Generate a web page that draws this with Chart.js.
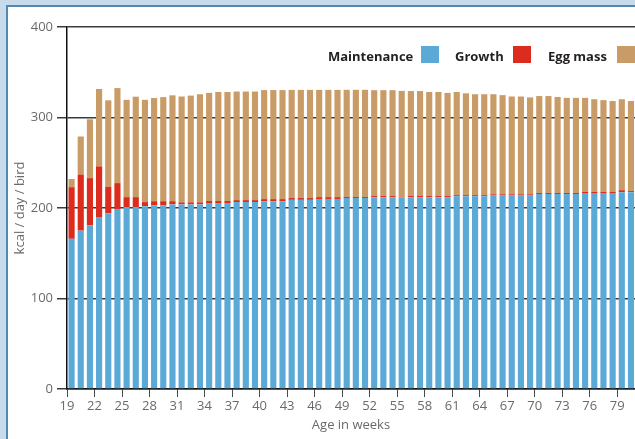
<!DOCTYPE html>
<html>
<head>
<meta charset="utf-8">
<title>Energy requirement by age</title>
<script src="https://cdn.jsdelivr.net/npm/chart.js@4.4.1/dist/chart.umd.min.js"></script>
<style>
    html, body {
        margin: 0;
        padding: 0;
        width: 635px;
        height: 439px;
        overflow: hidden;
        background: #c8dbeb;
    }
    .panel {
        position: absolute;
        left: 6px;
        top: 5px;
        right: 0;
        bottom: 0;
        background: #fff;
        border-left: 2px solid #4f89b4;
        border-top: 2px solid #4f89b4;
    }
    #chart {
        position: absolute;
        left: 0;
        top: 0;
    }
    .legend span {
        position: absolute;
        white-space: nowrap;
    }
    .legend .txt {
        top: 47px;
        line-height: 17px;
        font: bold 13px "Open Sans", sans-serif;
        color: #231f20;
    }
    .legend .box {
        top: 46px;
        width: 18px;
        height: 17px;
    }
</style>
</head>
<body>
<div class="panel"></div>
<canvas id="chart" width="635" height="439"></canvas>
<div class="legend" id="legend"></div>
<script>
const weeks = [
    19, 20, 21, 22, 23, 24, 25, 26, 27, 28, 29, 30, 31, 32, 33,
    34, 35, 36, 37, 38, 39, 40, 41, 42, 43, 44, 45, 46, 47, 48,
    49, 50, 51, 52, 53, 54, 55, 56, 57, 58, 59, 60, 61, 62, 63,
    64, 65, 66, 67, 68, 69, 70, 71, 72, 73, 74, 75, 76, 77, 78, 79, 80
];

const xTicks = [19, 22, 25, 28, 31, 34, 37, 40, 43, 46, 49, 52, 55, 58, 61, 64, 67, 70, 73, 76, 79];
const yTicks = [0, 100, 200, 300, 400];

const seriesNames = ['Maintenance', 'Growth', 'Egg mass'];
const seriesColors = ['#5ba9d6', '#dc2c1d', '#c99b66'];

// kcal / day / bird
const maintenance = [
    166, 175, 181, 190, 194, 199, 201, 201, 202, 203, 203, 204, 204, 204, 204,
    205.5, 205.5, 205.5, 206.5, 206.5, 206.5, 207.5, 207.5, 207.5, 209, 209, 209, 210, 210, 210,
    211, 211, 211, 212, 212, 212, 212, 212, 212, 212, 212, 212, 213, 213, 213,
    213, 214, 214, 214, 214, 214, 215.5, 215.5, 215.5, 215.5, 215.5, 216.5, 216.5, 216.5, 216.5, 217.5, 217.5
];

const growth = [
    57, 62, 52, 56, 29.5, 28.5, 11, 11, 4.5, 4.5, 4.5, 3.5, 2.2, 2.2, 2.2,
    2.2, 2.2, 2.2, 2.2, 2.2, 2.2, 2.3, 2.3, 2.3, 2, 2, 2, 2, 2, 2,
    1.1, 1.1, 1.1, 1.2, 1.2, 1.2, 0.4, 1.2, 1.2, 1.2, 1.2, 1.2, 1.2, 1.2, 1.2,
    1.2, 1.2, 1.2, 1.2, 1.2, 1.2, 1.2, 1.2, 1.2, 1.2, 1.2, 1.2, 1.2, 1.2, 1.2, 2.2, 1.2
];

const eggMass = [
    9, 42, 65, 85.5, 95.5, 105, 107.5, 111, 113, 114, 115, 117, 117, 118, 119.5,
    119.5, 120.5, 120.5, 120, 120, 120, 120.5, 120.5, 120.5, 119.5, 119.5, 119.5, 118.5, 118.5, 118.5,
    118.5, 118.5, 118.5, 117, 117, 117, 117, 116, 116, 115, 115, 114, 114, 112.5, 111.5,
    111.5, 110.5, 109.5, 108, 108, 107, 107, 107, 106, 105, 105, 104, 102.5, 101.5, 100.5, 100.5, 99.5
];

const axisGrey = '#6a6a6a';
const tickFont = { family: 'Open Sans', size: 13 };

// each bar sits in the middle of its week slot, ticks mark the slot edges
function toPoints(values) {
    return values.map((v, i) => ({ x: weeks[i] + 0.5, y: v }));
}

function buildLegend() {
    const legend = document.getElementById('legend');
    const textLeft = [328, 455, 548];
    const boxLeft = [421, 513, 617];

    seriesNames.forEach((name, i) => {
        const txt = document.createElement('span');
        txt.className = 'txt';
        txt.textContent = name;
        txt.style.left = textLeft[i] + 'px';
        legend.appendChild(txt);

        const box = document.createElement('span');
        box.className = 'box';
        box.style.left = boxLeft[i] + 'px';
        box.style.background = seriesColors[i];
        legend.appendChild(box);
    });
}

function renderChart() {
    const ctx = document.getElementById('chart').getContext('2d');
    const values = [maintenance, growth, eggMass];

    return new Chart(ctx, {
        type: 'bar',
        data: {
            datasets: seriesNames.map((name, i) => ({
                label: name,
                data: toPoints(values[i]),
                backgroundColor: seriesColors[i],
                borderWidth: 0,
                categoryPercentage: 1,
                barPercentage: 0.67
            }))
        },
        options: {
            responsive: false,
            animation: false,
            devicePixelRatio: 1,
            layout: {
                padding: { top: 27, left: 0, right: 0, bottom: 0 }
            },
            plugins: {
                legend: { display: false },
                tooltip: { enabled: false }
            },
            scales: {
                x: {
                    type: 'linear',
                    stacked: true,
                    min: 19,
                    max: 80.94,
                    offset: false,
                    z: 1,
                    grid: {
                        offset: false,
                        drawOnChartArea: false,
                        drawTicks: true,
                        tickLength: 8,
                        color: '#4a4a4a'
                    },
                    border: { color: '#111', width: 1.5 },
                    ticks: {
                        color: axisGrey,
                        padding: 1,
                        maxRotation: 0,
                        autoSkip: false,
                        font: tickFont
                    },
                    afterBuildTicks: scale => {
                        scale.ticks = xTicks.map(v => ({ value: v }));
                    },
                    afterFit: scale => {
                        scale.height = 50;
                    },
                    title: {
                        display: true,
                        text: 'Age in weeks',
                        color: axisGrey,
                        font: tickFont,
                        padding: { top: 0, bottom: 6 }
                    }
                },
                y: {
                    stacked: true,
                    min: 0,
                    max: 400,
                    z: 1,
                    grid: {
                        color: '#3c3c3c',
                        lineWidth: 1.5,
                        tickLength: 10
                    },
                    border: { color: '#111', width: 1.5 },
                    ticks: {
                        color: axisGrey,
                        padding: 4,
                        font: tickFont
                    },
                    afterBuildTicks: scale => {
                        scale.ticks = yTicks.map(v => ({ value: v }));
                    },
                    afterFit: scale => {
                        scale.width = 67;
                    },
                    title: {
                        display: true,
                        text: 'kcal / day / bird',
                        color: axisGrey,
                        font: tickFont,
                        padding: { top: 12, bottom: 0 }
                    }
                }
            }
        }
    });
}

buildLegend();
renderChart();
</script>
</body>
</html>
